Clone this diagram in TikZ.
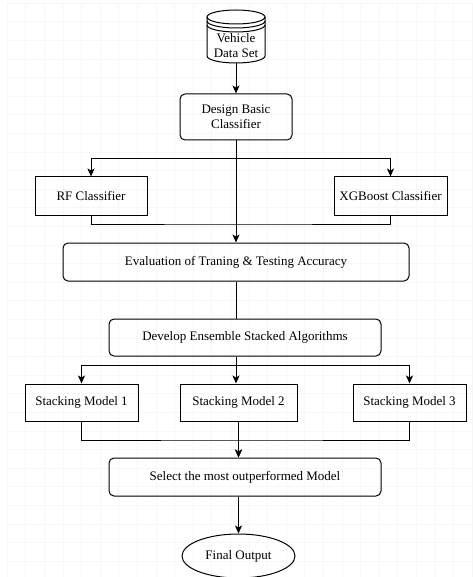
\documentclass[tikz,border=0pt]{standalone}
\usepackage{fontspec}
\setmainfont{Liberation Serif}
\usetikzlibrary{arrows, arrows.meta}
\usetikzlibrary{positioning}
\usetikzlibrary{calc}
\usetikzlibrary{shapes.geometric}

\begin{document}
\begin{tikzpicture}[x=1pt, y=-1pt,
	every node/.style={font=\fontsize{13}{15}\selectfont},
	stepround/.style={draw, line width=1pt, rounded corners=5pt, align=center, inner sep=0pt},
	stepsharp/.style={draw, line width=1pt, align=center, inner sep=0pt},
	arr/.style={line width=1pt, -{Stealth[length=8pt, width=7pt, inset=2pt]}},
	link/.style={line width=1pt},
	gridline/.style={black!3, line width=0.5pt}]
					%page
					\useasboundingbox (0,0) rectangle (472,577);
					\fill[white] (0,0) rectangle (472,577);
					\foreach \g in {0,...,25}
						\draw[gridline] ({7+18.6*\g},3) -- ({7+18.6*\g},577);
					\foreach \g in {0,...,31}
						\draw[gridline] (7,{3+18.6*\g}) -- (472,{3+18.6*\g});
					
					%data set
					\draw[line width=1pt, fill=white] (207,17) -- (207,56) arc (180:0:29 and 7) -- (265,17);
					\draw[line width=1pt] (236,17) ellipse (29 and 7);
					\draw[line width=1pt] (207,21) arc (180:0:29 and 7);
					\draw[line width=1pt] (207,25) arc (180:0:29 and 7);
					\node[align=center, minimum width=58pt, minimum height=34pt, inner sep=0pt] (data) at (236,46) {Vehicle\\Data Set};
					
					% boxes
					\node[stepround, minimum width=112pt, minimum height=46pt] (design) at (236,117) {Design Basic\\Classifier};
					\node[stepsharp, minimum width=112pt, minimum height=38pt] (rf) at (91,196) {RF Classifier};
					\node[stepsharp, minimum width=113pt, minimum height=38pt] (xgb) at (390.5,196) {XGBoost Classifier};
					\node[stepround, minimum width=346pt, minimum height=38pt] (eval) at (236,262) {Evaluation of Traning \& Testing Accuracy};
					\node[stepround, minimum width=272pt, minimum height=37pt] (develop) at (245,337.5) {Develop Ensemble Stacked Algorithms};
					\node[stepsharp, minimum width=113pt, minimum height=37pt] (sm1) at (81.5,402.5) {Stacking Model 1};
					\node[stepsharp, minimum width=117pt, minimum height=37pt] (sm2) at (238.5,402.5) {Stacking Model 2};
					\node[stepsharp, minimum width=113pt, minimum height=37pt] (sm3) at (409.5,402.5) {Stacking Model 3};
					\node[stepround, minimum width=272pt, minimum height=38pt] (select) at (245,477) {Select the most outperformed Model};
					\node[draw, ellipse, line width=1pt, minimum width=113pt, minimum height=44pt, inner sep=0pt] (final) at (238.5,556) {Final Output};
					
					% split points
					\coordinate (split1) at (236,159);
					\coordinate (join1) at (236,224);
					\coordinate (split2) at (236,365);
					\coordinate (join2) at (238.5,440);
					
					% add arrows
					\draw[arr] (data) -- (design);
					\draw[arr] (design) -- (eval);
					\draw[arr] (split1) -| (rf);
					\draw[arr] (split1) -| (xgb);
					\draw[link] (rf) |- (join1) -| (xgb);
					\draw[link] (eval.south) -- (eval.south |- develop.north);
					\draw[link] (develop.south -| split2) -- (split2);
					\draw[arr] (split2) -| (sm1);
					\draw[arr] (split2) -- (split2 |- sm2.north);
					\draw[arr] (split2) -| (sm3);
					\draw[link] (sm1) |- (join2) -| (sm3);
					\draw[arr] (sm2) -- (sm2.south |- select.north);
					\draw[arr] (join2) -- (sm2.south |- select.north);
					\draw[arr] (sm2.south |- select.south) -- (final);
				\end{tikzpicture}
\end{document}
